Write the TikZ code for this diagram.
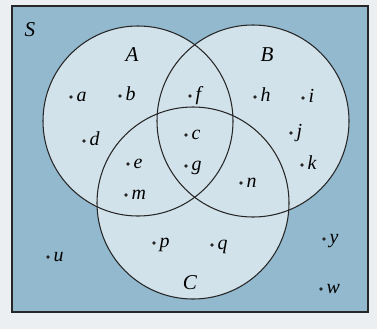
\documentclass[tikz,border=0pt]{standalone}
\usepackage{fontspec}
\setmainfont{Liberation Serif}
\begin{document}
\begin{tikzpicture}[x={(0.03cm,0)},y={(0,-0.03cm)},
  dot/.style={circle,fill=black!85,inner sep=0pt,minimum size=3.2pt},
  lbl/.style={font=\fontsize{17}{19}\selectfont\itshape,inner sep=0pt,anchor=base west},
  setlbl/.style={font=\fontsize{18}{20}\selectfont\itshape,inner sep=0pt},
  ring/.style={draw=black!85,line width=0.9pt}]
\definecolor{outerbg}{RGB}{236,239,241}
\definecolor{univ}{RGB}{146,185,206}
\definecolor{inner}{RGB}{210,226,234}
\useasboundingbox (0,0) rectangle (377,329);
\fill[outerbg] (0,0) rectangle (377,329);
\fill[univ] (12,6) rectangle (368,312);
\coordinate (cA) at (138,121);
\coordinate (cB) at (253,121);
\coordinate (cC) at (193,203);
\fill[inner] (cA) circle[radius=2.85cm];
\fill[inner] (cB) circle[radius=2.88cm];
\fill[inner] (cC) circle[radius=2.88cm];
\draw[ring] (cA) circle[radius=2.85cm];
\draw[ring] (cB) circle[radius=2.88cm];
\draw[ring] (cC) circle[radius=2.88cm];
\draw[black!85,line width=1pt] (12,6) rectangle (368,312);
\node[setlbl] (S) at (30,30) {S};
\node[setlbl] (A) at (132,55) {A};
\node[setlbl] (B) at (267,55) {B};
\node[setlbl] (C) at (190,283) {C};
\foreach \n/\x/\y in {a/71/97,b/120/96,d/84/141,e/128/164,m/126/195,f/190/96,c/186/135,g/186/166,h/255/97,i/303/98,j/291/133,k/302/165,n/241/183,p/154/243,q/212/245,u/48/257,y/324/239,w/321/289}{
  \node[dot] (p\n) at (\x,\y) {};
  \node[lbl] (l\n) at ([xshift=4.5pt,yshift=-3.6pt]p\n.center) {\n};
}
\end{tikzpicture}
\end{document}
